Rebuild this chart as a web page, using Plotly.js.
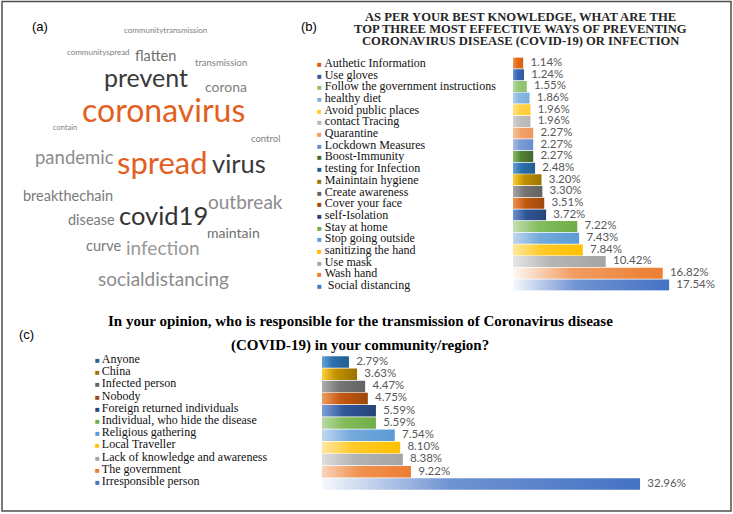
<!DOCTYPE html>
<html><head><meta charset="utf-8">
<script src="https://cdn.plot.ly/plotly-3.0.1.min.js"></script>
<style>html,body{margin:0;padding:0;background:#fff}#chart{width:733px;height:514px}</style>
</head><body><div id="chart"></div>
<script>
const W = 733, H = 514;

// ---------- Panel (b) data (bottom to top) ----------
const bCategories = [" Social distancing","Wash hand","Use mask","sanitizing the hand","Stop going outside","Stay at home","self-Isolation","Cover your face","Create awareness","Mainintain hygiene","testing for Infection","Boost-Immunity","Lockdown Measures","Quarantine","contact Tracing","Avoid public places","healthy diet","Follow the government instructions","Use gloves","Authetic Information"];
const bValues = [17.54,16.82,10.42,7.84,7.43,7.22,3.72,3.51,3.30,3.20,2.48,2.27,2.27,2.27,1.96,1.96,1.86,1.55,1.24,1.14];
const bColors = ["#4472C4","#ED7D31","#A5A5A5","#FFC000","#5B9BD5","#70AD47","#264478","#9E480E","#636363","#997300","#255E91","#43682B","#698ED0","#F1975A","#B7B7B7","#FFCD33","#7CAFDD","#8CC168","#335AA1","#D26012"];
const bTitleLines = ["AS PER YOUR BEST KNOWLEDGE, WHAT ARE THE","TOP THREE MOST EFFECTIVE WAYS OF PREVENTING","CORONAVIRUS DISEASE (COVID-19) OR INFECTION"];

// ---------- Panel (c) data (bottom to top) ----------
const cCategories = ["Irresponsible person","The government","Lack of knowledge and awareness","Local Traveller","Religious gathering","Individual, who hide the disease","Foreign returned individuals","Nobody","Infected person","China","Anyone"];
const cValues = [32.96,9.22,8.38,8.10,7.54,5.59,5.59,4.75,4.47,3.63,2.79];
const cColors = ["#4472C4","#ED7D31","#A5A5A5","#FFC000","#5B9BD5","#70AD47","#264478","#9E480E","#636363","#997300","#255E91"];
const cTitleLines = ["In your opinion, who is responsible for the transmission of Coronavirus disease","(COVID-19) in your community/region?"];

// ---------- Panel (a) word cloud ----------
const wcWords = ["communitytransmission","communityspread","flatten","transmission","prevent","corona","coronavirus","contain","control","pandemic","spread","virus","breakthechain","outbreak","disease","covid19","maintain","curve","infection","socialdistancing"];
const wcSizes = [8,8,14.5,9.5,25,14,32,7.5,9.5,18.5,31,25.5,14.5,19,14.5,25.5,14,14.5,19,19];
const wcColors = ["#7f7f7f","#7f7f7f","#6f6f6f","#7f7f7f","#3a3a3a","#7f7f7f","#e2601f","#7f7f7f","#7f7f7f","#8c8c8c","#e2601f","#3a3a3a","#7a7a7a","#8c8c8c","#7a7a7a","#333333","#6f6f6f","#7a7a7a","#999999","#8c8c8c"];
const wcX = [165,98,155,221,146,226,163,65,265,74,162,239,68,245,91,163,234,104,163,163];
const wcY = [31,53,57,63,79,88,113,128,139,159,165,166,197,203,221,218,234,247,249,280];

// ---------- colour helpers ----------
function hexToRgb(h){h=h.replace('#','');return [0,2,4].map(i=>parseInt(h.substr(i,2),16)/255);}
function rgbToHsl([r,g,b]){const mx=Math.max(r,g,b),mn=Math.min(r,g,b);let h=0,s=0,l=(mx+mn)/2;
  if(mx!==mn){const d=mx-mn;s=l>0.5?d/(2-mx-mn):d/(mx+mn);
    if(mx===r)h=(g-b)/d+(g<b?6:0);else if(mx===g)h=(b-r)/d+2;else h=(r-g)/d+4;h/=6;}
  return [h,s,l];}
function hslToRgb([h,s,l]){if(s===0)return [l,l,l];
  const f=(p,q,t)=>{if(t<0)t+=1;if(t>1)t-=1;if(t<1/6)return p+(q-p)*6*t;if(t<1/2)return q;if(t<2/3)return p+(q-p)*(2/3-t)*6;return p;};
  const q=l<0.5?l*(1+s):l+s-l*s,p=2*l-q;return [f(p,q,h+1/3),f(p,q,h),f(p,q,h-1/3)];}
function lighten(hex,f){const hsl=rgbToHsl(hexToRgb(hex));hsl[2]=hsl[2]+(1-hsl[2])*f;
  const c=hslToRgb(hsl).map(x=>Math.round(x*255));return 'rgb('+c.join(',')+')';}

const traces = [];
const annotations = [];
const HALF = 0.47;

function addBars(values, colors, xa, ya){
  values.forEach((v,i)=>{
    const f = Math.min(0.95, 0.3 + 0.04*v);
    traces.push({
      type:'scatter', mode:'lines', xaxis:xa, yaxis:ya,
      x:[0,v,v,0,0], y:[i-HALF,i-HALF,i+HALF,i+HALF,i-HALF],
      fill:'toself', line:{width:0,color:colors[i]}, fillcolor:colors[i],
      fillgradient:{type:'horizontal', colorscale:[[0,lighten(colors[i],f)],[0.4,lighten(colors[i],f*0.25)],[1,colors[i]]]},
      hoverinfo:'skip', showlegend:false
    });
  });
  traces.push({
    type:'scatter', mode:'markers+text', xaxis:xa, yaxis:ya,
    x:values, y:values.map((v,i)=>i), text:values.map(v=>v.toFixed(2)+'%'),
    marker:{size:10, opacity:0},
    textposition:'middle right', textfont:{family:'Lato', size:11.5, color:'#595959'},
    cliponaxis:false, hoverinfo:'skip', showlegend:false
  });
}
addBars(bValues, bColors, 'x', 'y');
addBars(cValues, cColors, 'x2', 'y2');

// legend-like labels
bCategories.forEach((c,i)=>{
  annotations.push({xref:'paper', yref:'y', x:315/W, y:i, yshift:0, xanchor:'left', yanchor:'middle', showarrow:false,
    text:'<span style="color:'+bColors[i]+';font-size:8px">■</span> '+c,
    font:{family:'Liberation Serif', size:12, color:'#111'}});
});
cCategories.forEach((c,i)=>{
  annotations.push({xref:'paper', yref:'y2', x:93/W, y:i, yshift:3, xanchor:'left', yanchor:'middle', showarrow:false,
    text:'<span style="color:'+cColors[i]+';font-size:8px">■ </span>'+c,
    font:{family:'Liberation Serif', size:12, color:'#111'}});
});

// titles
const bTitleY = [17,29,41];
bTitleLines.forEach((t,k)=>annotations.push({xref:'paper',yref:'paper',x:520/W,y:1-bTitleY[k]/H,xanchor:'center',yanchor:'middle',showarrow:false,
  text:'<b>'+t+'</b>', font:{family:'Liberation Serif', size:12.6, color:'#262626'}}));
const cTitleY = [321,345];
cTitleLines.forEach((t,k)=>annotations.push({xref:'paper',yref:'paper',x:360/W,y:1-cTitleY[k]/H,xanchor:'center',yanchor:'middle',showarrow:false,
  text:'<b>'+t+'</b>', font:{family:'Liberation Serif', size:15, color:'#000000'}}));

// panel letters
[["(a)",40,26],["(b)",309,26],["(c)",27,334]].forEach(p=>annotations.push({xref:'paper',yref:'paper',x:p[1]/W,y:1-p[2]/H,xanchor:'center',yanchor:'middle',showarrow:false,
  text:p[0], font:{family:'Liberation Sans', size:13, color:'#000'}}));

// word cloud
wcWords.forEach((w,i)=>annotations.push({xref:'paper',yref:'paper',x:wcX[i]/W,y:1-(wcY[i]-0.1*wcSizes[i])/H,xanchor:'center',yanchor:'middle',showarrow:false,
  text:w, font:{family:'Lato', size:wcSizes[i], color:wcColors[i]}}));

const noAxis = {visible:false, showgrid:false, zeroline:false, fixedrange:true};
const layout = {
  width:W, height:H, margin:{l:0,r:0,t:0,b:0}, paper_bgcolor:'#fff', plot_bgcolor:'rgba(0,0,0,0)',
  showlegend:false,
  xaxis:Object.assign({domain:[513/W,705/W], range:[0,(705-513)/8.9], anchor:'y'}, noAxis),
  yaxis:Object.assign({domain:[1-290.8/H,1-57.2/H], range:[-0.5,19.5], anchor:'x'}, noAxis),
  xaxis2:Object.assign({domain:[322/W,680/W], range:[0,(680-322)/9.65], anchor:'y2'}, noAxis),
  yaxis2:Object.assign({domain:[1-490.1/H,1-355.9/H], range:[-0.5,10.5], anchor:'x2'}, noAxis),
  annotations:annotations,
  shapes:[{type:'rect',xref:'paper',yref:'paper',x0:2/W,x1:731/W,y0:1-511/H,y1:1-1.5/H,line:{color:'#4d4d4d',width:1.5}}]
};
Plotly.newPlot('chart', traces, layout, {staticPlot:true, displayModeBar:false});
</script></body></html>
